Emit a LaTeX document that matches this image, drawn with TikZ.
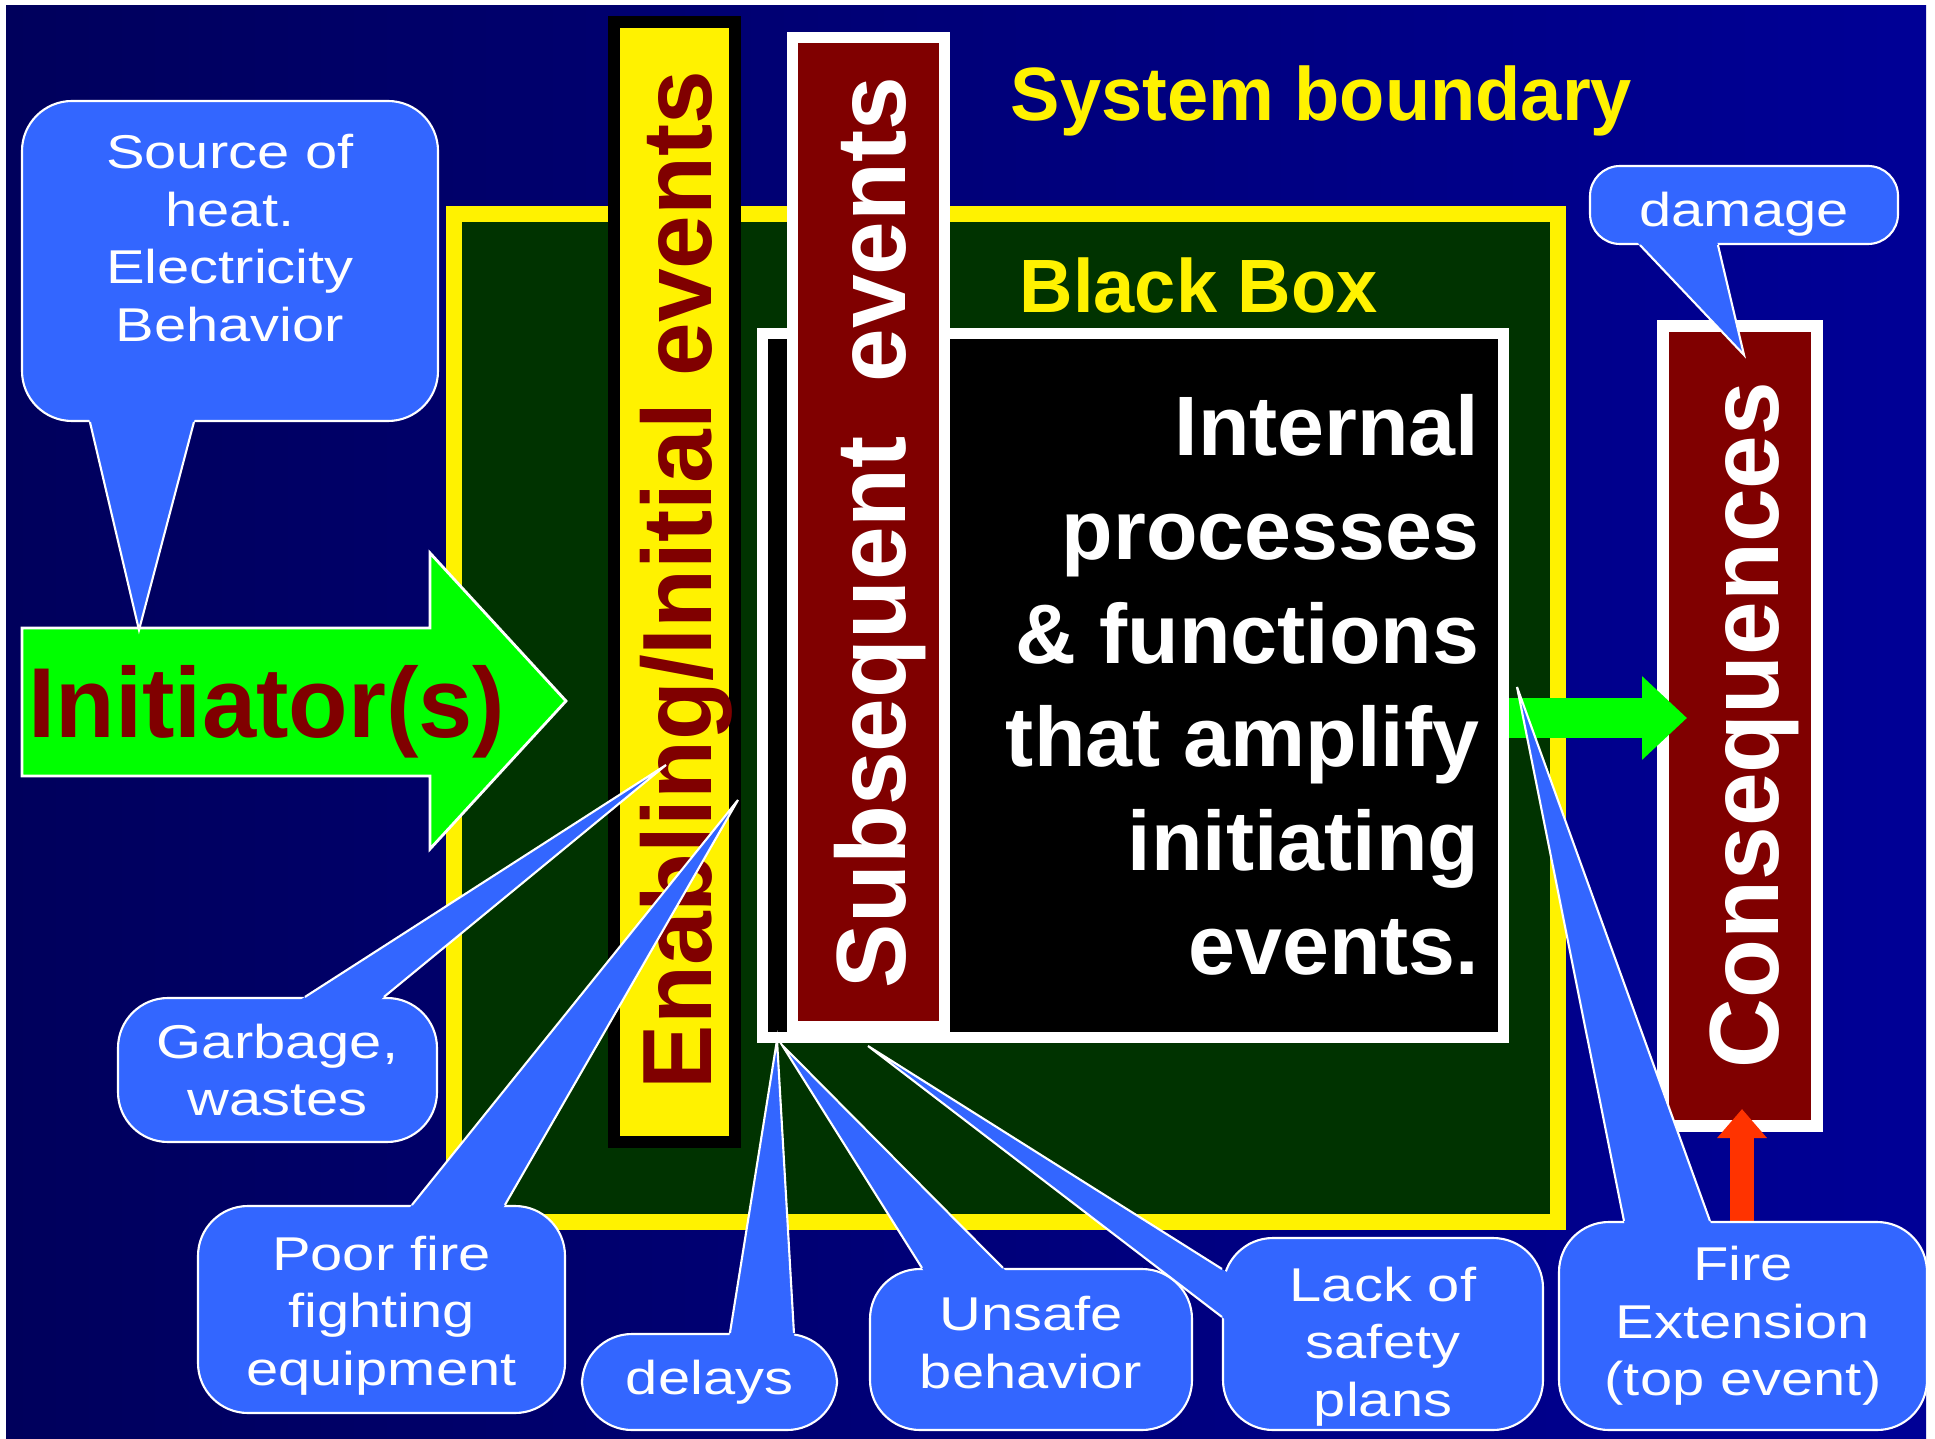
\documentclass[tikz,border=0pt]{standalone}
\usepackage{fontspec}
\setmainfont{Liberation Sans}
\newfontfamily\callfont[FakeStretch=1.22]{Liberation Sans}
\newfontfamily\headfont[FakeStretch=0.98]{Liberation Sans}
\usepackage{tikz}
\usetikzlibrary{calc}
\usetikzlibrary{arrows.meta}
\definecolor{bgdark}{RGB}{0,0,92}
\definecolor{bgblue}{RGB}{0,0,150}
\definecolor{boxgreen}{RGB}{0,51,0}
\definecolor{maroon}{RGB}{128,0,0}
\definecolor{callblue}{RGB}{51,102,255}
\definecolor{arrowgreen}{RGB}{0,255,0}
\definecolor{fireorange}{RGB}{255,51,0}
\tikzset{frm/.style={rectangle,draw,line width=#1,inner sep=0},
  callout/.style={rectangle,rounded corners=5mm,draw=white,line width=0.6pt,fill=callblue,
    text=white,align=center,inner sep=0,font=\callfont\fontsize{13.5}{16.4}\selectfont},
  vtext/.style={rotate=90,anchor=base,inner sep=0,font=\headfont\bfseries\fontsize{28}{30}\selectfont},
  head/.style={anchor=base west,inner sep=0,text=yellow,font=\headfont\bfseries\fontsize{21.5}{24}\selectfont},
  flow/.style={line width=#1}}
% pointer of a callout: base point, base point, tip
\newcommand{\calltail}[3]{%
  \fill[callblue] ($#1!-1mm!#3$) -- #3 -- ($#2!-1mm!#3$) -- cycle;
  \draw[white,line width=0.6pt] #1 -- #3 -- #2;}

\begin{document}
\begin{tikzpicture}[x=1mm,y=-1mm]
  \useasboundingbox (0,0) rectangle (193.5,143.9);
  \fill[white] (0,0) rectangle (193.5,143.9);
  \fill[left color=bgdark,right color=bgblue] (0.6,0.6) rectangle (192.6,143.9);

  % system boundary and black box
  \node[frm=1.6mm,draw=yellow,fill=boxgreen,minimum width=110.4mm,minimum height=100.8mm] (sys) at (100.6,71.8) {};
  \node[head] (systxt) at (101.0,12.1) {System boundary};
  \node[head] (bbtxt) at (101.9,31.3) {Black Box};

  \node[frm=1.2mm,draw=black,fill=yellow,minimum width=12.1mm,minimum height=112mm] (enab) at (67.45,58.2) {};
  \node[vtext,text=maroon] (enabtxt) at (71.1,58.0) {Enabling/Initial events};

  \node[frm=1.1mm,draw=white,fill=black,minimum width=74.1mm,minimum height=70.4mm] (blk) at (113.3,68.55) {};
  \node[anchor=east,align=right,inner sep=0,text=white,font=\bfseries\fontsize{24}{29.5}\selectfont] (blktxt) at (148.0,68.5)
    {Internal\\processes\\\& functions\\that amplify\\initiating\\events.};

  \node[frm=1.1mm,draw=white,fill=maroon,minimum width=15.2mm,minimum height=98.9mm] (subs) at (86.85,53.2) {};
  \node[vtext,text=white] (substxt) at (90.5,53.25) {Subsequent\ \ events};

  \node[frm=1.2mm,draw=white,fill=maroon,minimum width=15.4mm,minimum height=80mm] (cons) at (174.0,72.6) {};
  \node[vtext,text=white] (constxt) at (177.8,72.5) {Consequences};

  % initiator arrow
  \draw[white,fill=arrowgreen,line width=0.8pt] (2.2,62.8) -- (43.0,62.8) -- (43.0,55.3) -- (56.6,70.1)
    -- (43.0,84.9) -- (43.0,77.6) -- (2.2,77.6) -- cycle;
  \node[anchor=base west,inner sep=0,text=maroon,font=\headfont\bfseries\fontsize{28.3}{30}\selectfont] (init) at (2.8,73.8) {Initiator(s)};

  \coordinate (flowy) at (0,71.8);
  \draw[flow=4mm,arrowgreen,-{Triangle[length=4.5mm,width=8.1mm]}] (blk.east |- flowy) -- ($(cons.west |- flowy)+(3.0,0)$);

  % callouts
  \node[callout,minimum width=41.6mm,minimum height=32mm] (src) at (23.0,26.1) {Source of\\heat.\\Electricity\\Behavior\\[-3.3pt]\mbox{}};
  \calltail{([xshift=6.9mm]src.south west)}{([xshift=17.3mm]src.south west)}{(13.9,63.0)}

  \node[callout,rounded corners=3mm,minimum width=30.8mm,minimum height=7.8mm] (dmg) at (174.4,20.5) {\mbox{}\\[-1.4pt]damage};
  \calltail{([xshift=5.1mm]dmg.south west)}{([xshift=12.9mm]dmg.south west)}{(174.4,35.5)}

  \node[callout,minimum width=31.9mm,minimum height=14.4mm] (garb) at (27.75,107.0) {Garbage,\\wastes};
  \calltail{([xshift=18.8mm]garb.north west)}{([xshift=26.7mm]garb.north west)}{(66.6,76.5)}

  \node[callout,minimum width=36.7mm,minimum height=20.7mm] (poor) at (38.15,130.95) {\mbox{}\\[-3.2pt]Poor fire\\fighting\\equipment};
  \calltail{([xshift=21.5mm]poor.north west)}{([xshift=30.8mm]poor.north west)}{(73.8,80.0)}

  \node[callout,minimum width=25.5mm,minimum height=9.6mm] (delay) at (70.95,138.2) {delays};
  \calltail{([xshift=14.9mm]delay.north west)}{([xshift=21.3mm]delay.north west)}{(77.7,104.0)}

  \node[callout,minimum width=32.2mm,minimum height=16.1mm] (unsafe) at (103.1,134.95) {Unsafe\\behavior\\[-12.4pt]\mbox{}};
  \calltail{([xshift=5.3mm]unsafe.north west)}{([xshift=13.4mm]unsafe.north west)}{(78.2,104.5)}

  \node[callout,minimum width=32.0mm,minimum height=19.2mm] (lack) at (138.3,133.4) {\mbox{}\\[0.6pt]Lack of\\safety\\plans};
  \calltail{([yshift=-3.2mm]lack.north west)}{([yshift=-8.0mm]lack.north west)}{(86.8,104.6)}

  \draw[flow=2.4mm,fireorange,-{Triangle[length=2.9mm,width=4.8mm]}] (174.2,122.2) -- ($(cons.south)+(0.2,-2.3)$);

  \node[callout,minimum width=36.8mm,minimum height=20.8mm] (fire) at (174.3,132.6) {Fire\\Extension\\(top event)};
  \calltail{([xshift=6.6mm]fire.north west)}{([xshift=15.2mm]fire.north west)}{(151.7,68.7)}
\end{tikzpicture}
\end{document}
